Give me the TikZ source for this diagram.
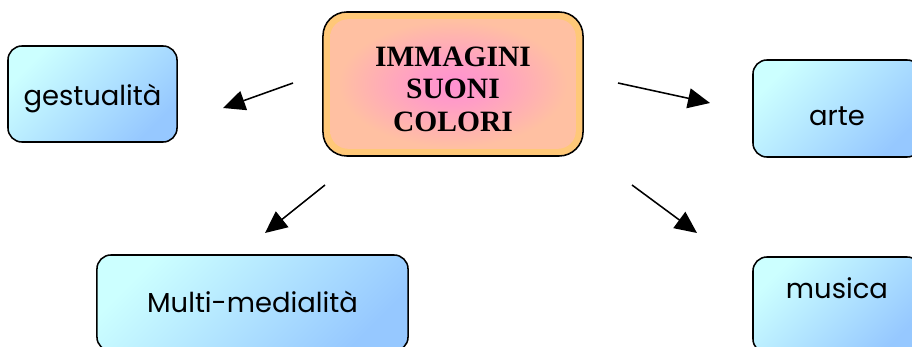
\documentclass[tikz,border=0pt]{standalone}
\usepackage{fontspec}
\setmainfont{Liberation Serif}
\newfontfamily\boxfont{Poppins}
\usetikzlibrary{arrows.meta}

\definecolor{boxtop}{RGB}{204,255,255}
\definecolor{boxbottom}{RGB}{150,200,255}
\definecolor{hubouter}{RGB}{255,200,120}
\definecolor{hubpeach}{RGB}{255,192,162}
\definecolor{hubinner}{RGB}{255,145,210}

\pgfdeclareradialshading{hubshade}{\pgfpoint{0bp}{0bp}}{%
  color(0bp)=(hubinner); color(7bp)=(hubinner!75!hubpeach);
  color(22bp)=(hubpeach); color(50bp)=(hubpeach)}

\tikzset{
  leaf/.style={draw=black, line width=1.1pt, rounded corners=0.35cm,
    top color=boxtop, bottom color=boxbottom, shading angle=45,
    minimum width=4.2cm, minimum height=2.4cm,
    font=\boxfont\fontsize{19.5}{23}\selectfont,
    text height=0.55cm, text depth=0cm},
  hub/.style={draw=black, line width=1.1pt, rounded corners=0.6cm,
    fill=hubouter,
    path picture={
      \shade[shading=hubshade, rounded corners=0.45cm]
        ([shift={(0.18cm,-0.18cm)}]path picture bounding box.north west)
        rectangle ([shift={(-0.18cm,0.18cm)}]path picture bounding box.south east);
    },
    minimum width=6.5cm, minimum height=3.6cm, align=center,
    font=\bfseries\fontsize{21}{23}\selectfont,
    text height=2.45cm, text depth=0.1cm},
  link/.style={line width=1.1pt, -{Triangle[length=0.55cm,width=0.5cm]}}
}

\begin{document}
\begin{tikzpicture}[x=0.025cm, y=-0.025cm]
  \clip (0,0) rectangle (912,347);

  \node[hub] (hub) at (453,84) {IMMAGINI\\SUONI\\COLORI};
  \node[leaf, minimum width=4.225cm] (gest) at (92.5,94) {gestualità};
  \node[leaf, minimum height=2.425cm, text height=0.825cm] (arte) at (837,108.5) {arte};
  \node[leaf, minimum width=7.775cm, text depth=0.1cm] (multi) at (252.5,303) {Multi-medialità};
  \node[leaf, text depth=0.9cm] (musica) at (837,305) {musica};

  % free arrow ends
  \coordinate (gest-tail) at (293,83);
  \coordinate (gest-tip) at (223,108);
  \coordinate (arte-tail) at (618,83);
  \coordinate (arte-tip) at (710,103);
  \coordinate (multi-tail) at (325,185);
  \coordinate (multi-tip) at (265,233);
  \coordinate (musica-tail) at (632,185);
  \coordinate (musica-tip) at (697,233);

  \draw[link] (gest-tail) -- (gest-tip);
  \draw[link] (arte-tail) -- (arte-tip);
  \draw[link] (multi-tail) -- (multi-tip);
  \draw[link] (musica-tail) -- (musica-tip);
\end{tikzpicture}
\end{document}
